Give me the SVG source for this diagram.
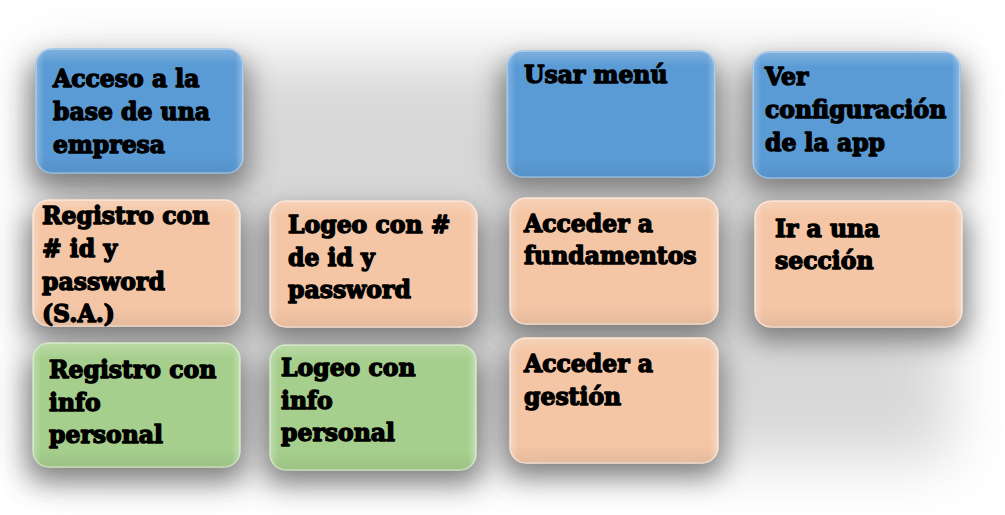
<svg xmlns="http://www.w3.org/2000/svg" width="1005" height="515" viewBox="0 0 1005 515">
  <defs>
    <filter id="shadow" x="-40%" y="-40%" width="180%" height="190%">
      <feGaussianBlur stdDeviation="14"/>
    </filter>
    <filter id="haze" x="-20%" y="-30%" width="140%" height="160%">
      <feGaussianBlur stdDeviation="30"/>
    </filter>
    <linearGradient id="gloss" x1="0" y1="0" x2="0" y2="1">
      <stop offset="0" stop-color="#ffffff" stop-opacity="0.22"/>
      <stop offset="0.12" stop-color="#ffffff" stop-opacity="0"/>
      <stop offset="0.85" stop-color="#000000" stop-opacity="0"/>
      <stop offset="1" stop-color="#000000" stop-opacity="0.06"/>
    </linearGradient>
    <linearGradient id="side" x1="0" y1="0" x2="1" y2="0">
      <stop offset="0" stop-color="#ffffff" stop-opacity="0.25"/>
      <stop offset="0.04" stop-color="#ffffff" stop-opacity="0"/>
      <stop offset="0.96" stop-color="#ffffff" stop-opacity="0"/>
      <stop offset="1" stop-color="#ffffff" stop-opacity="0.3"/>
    </linearGradient>
  </defs>
  <style>
    .shd { fill: #505050; opacity: 0.7; filter: url(#shadow); }
    .blue { fill: #5b9bd5; stroke: #9cc3e8; stroke-width: 1.5; }
    .peach { fill: #f4c6a6; stroke: #fbe3d2; stroke-width: 1.5; }
    .green { fill: #a6cf8d; stroke: #cfe6c0; stroke-width: 1.5; }
    .gl { fill: url(#gloss); }
    .sd { fill: url(#side); }
    text { font-family: "DejaVu Serif", "Liberation Serif", serif; font-weight: bold; font-size: 23.5px; fill: #000; stroke: #000; stroke-width: 1.4; stroke-linejoin: round; }
  </style>

  <rect width="1005" height="515" fill="#ffffff"/>

  <!-- broad grey haze behind the whole arrangement -->
  <g id="backdrop">
    <rect x="40" y="60" width="910" height="400" fill="#b8b8b8" opacity="0.55" filter="url(#haze)"/>
  </g>

  <!-- soft drop shadows beneath every box -->
  <g id="shadows">
    <rect class="shd" x="30" y="60" width="218" height="128" rx="16"/>
    <rect class="shd" x="501" y="62" width="218" height="128" rx="16"/>
    <rect class="shd" x="747" y="63" width="218" height="128" rx="16"/>
    <rect class="shd" x="27" y="211" width="218" height="128" rx="16"/>
    <rect class="shd" x="264" y="212" width="218" height="128" rx="16"/>
    <rect class="shd" x="504" y="209" width="218" height="128" rx="16"/>
    <rect class="shd" x="749" y="212" width="218" height="128" rx="16"/>
    <rect class="shd" x="27" y="354" width="218" height="128" rx="16"/>
    <rect class="shd" x="264" y="356" width="218" height="128" rx="16"/>
    <rect class="shd" x="504" y="349" width="218" height="128" rx="16"/>
  </g>

  <g id="connectors"/>

  <g id="acceso-base">
    <rect class="blue" x="36" y="49" width="207" height="124" rx="16"/>
    <rect class="gl" x="36" y="49" width="207" height="124" rx="16"/>
    <rect class="sd" x="36" y="49" width="207" height="124" rx="16"/>
    <text x="53" y="87">Acceso a la</text>
    <text x="53" y="120">base de una</text>
    <text x="53" y="153">empresa</text>
  </g>

  <g id="usar-menu">
    <rect class="blue" x="507" y="51" width="208" height="126" rx="16"/>
    <rect class="gl" x="507" y="51" width="208" height="126" rx="16"/>
    <rect class="sd" x="507" y="51" width="208" height="126" rx="16"/>
    <text x="524" y="83">Usar menú</text>
  </g>

  <g id="ver-configuracion">
    <rect class="blue" x="753" y="52" width="207" height="126" rx="16"/>
    <rect class="gl" x="753" y="52" width="207" height="126" rx="16"/>
    <rect class="sd" x="753" y="52" width="207" height="126" rx="16"/>
    <text x="765" y="85">Ver</text>
    <text x="765" y="118">configuración</text>
    <text x="765" y="151">de la app</text>
  </g>

  <g id="registro-id">
    <rect class="peach" x="33" y="200" width="207" height="126" rx="16"/>
    <rect class="gl" x="33" y="200" width="207" height="126" rx="16"/>
    <rect class="sd" x="33" y="200" width="207" height="126" rx="16"/>
    <text x="42" y="224">Registro con</text>
    <text x="42" y="257"># id y</text>
    <text x="42" y="290">password</text>
    <text x="42" y="322">(S.A.)</text>
  </g>

  <g id="logeo-id">
    <rect class="peach" x="270" y="201" width="207" height="126" rx="16"/>
    <rect class="gl" x="270" y="201" width="207" height="126" rx="16"/>
    <rect class="sd" x="270" y="201" width="207" height="126" rx="16"/>
    <text x="288" y="233">Logeo con #</text>
    <text x="288" y="266">de id y</text>
    <text x="288" y="298">password</text>
  </g>

  <g id="acceder-fundamentos">
    <rect class="peach" x="510" y="198" width="208" height="126" rx="16"/>
    <rect class="gl" x="510" y="198" width="208" height="126" rx="16"/>
    <rect class="sd" x="510" y="198" width="208" height="126" rx="16"/>
    <text x="524" y="232">Acceder a</text>
    <text x="524" y="264">fundamentos</text>
  </g>

  <g id="ir-seccion">
    <rect class="peach" x="755" y="201" width="207" height="126" rx="16"/>
    <rect class="gl" x="755" y="201" width="207" height="126" rx="16"/>
    <rect class="sd" x="755" y="201" width="207" height="126" rx="16"/>
    <text x="775" y="237">Ir a una</text>
    <text x="775" y="269">sección</text>
  </g>

  <g id="registro-info">
    <rect class="green" x="33" y="343" width="207" height="124" rx="16"/>
    <rect class="gl" x="33" y="343" width="207" height="124" rx="16"/>
    <rect class="sd" x="33" y="343" width="207" height="124" rx="16"/>
    <text x="49" y="378">Registro con</text>
    <text x="49" y="411">info</text>
    <text x="49" y="443">personal</text>
  </g>

  <g id="logeo-info">
    <rect class="green" x="270" y="345" width="206" height="125" rx="16"/>
    <rect class="gl" x="270" y="345" width="206" height="125" rx="16"/>
    <rect class="sd" x="270" y="345" width="206" height="125" rx="16"/>
    <text x="281" y="376">Logeo con</text>
    <text x="281" y="409">info</text>
    <text x="281" y="441">personal</text>
  </g>

  <g id="acceder-gestion">
    <rect class="peach" x="510" y="338" width="208" height="125" rx="16"/>
    <rect class="gl" x="510" y="338" width="208" height="125" rx="16"/>
    <rect class="sd" x="510" y="338" width="208" height="125" rx="16"/>
    <text x="524" y="372">Acceder a</text>
    <text x="524" y="405">gestión</text>
  </g>
</svg>
